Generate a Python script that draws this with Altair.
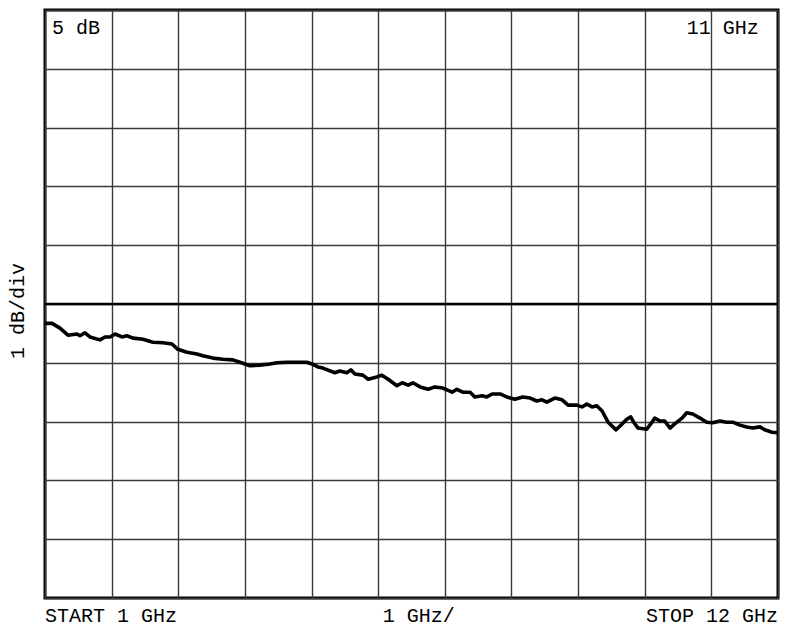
import altair as alt
import pandas as pd

# Trace (frequency in GHz, level in dB relative to reference line)
freq_ghz = [1.00, 1.105, 1.225, 1.345, 1.48, 1.525, 1.60, 1.675, 1.825, 1.90, 1.975,
            2.05, 2.155, 2.23, 2.32, 2.47, 2.62, 2.77, 2.905, 2.995, 3.13, 3.28, 3.37,
            3.52, 3.67, 3.82, 3.925, 4.075, 4.225, 4.375, 4.48, 4.63, 4.825, 4.93,
            5.005, 5.095, 5.17, 5.35, 5.425, 5.53, 5.59, 5.65, 5.77, 5.85, 5.98, 6.055,
            6.15, 6.28, 6.36, 6.45, 6.52, 6.63, 6.75, 6.85, 6.97, 7.11, 7.18, 7.27,
            7.38, 7.45, 7.56, 7.63, 7.71, 7.83, 7.93, 8.05, 8.17, 8.28, 8.38, 8.46,
            8.53, 8.65, 8.76, 8.85, 8.98, 9.06, 9.13, 9.21, 9.28, 9.36, 9.45, 9.57,
            9.66, 9.73, 9.79, 9.84, 9.90, 10.03, 10.11, 10.15, 10.23, 10.30, 10.38,
            10.45, 10.56, 10.63, 10.72, 10.83, 10.93, 11.02, 11.13, 11.23, 11.32,
            11.43, 11.53, 11.62, 11.73, 11.80, 11.91, 12.00]
level_db = [-0.33, -0.33, -0.41, -0.53, -0.51, -0.54, -0.49, -0.56, -0.61, -0.56, -0.56,
            -0.51, -0.56, -0.54, -0.58, -0.60, -0.65, -0.66, -0.68, -0.77, -0.82, -0.85,
            -0.88, -0.92, -0.94, -0.95, -0.99, -1.05, -1.04, -1.02, -1.00, -0.99, -0.99,
            -0.99, -1.02, -1.07, -1.09, -1.17, -1.14, -1.17, -1.12, -1.19, -1.21, -1.28,
            -1.24, -1.21, -1.28, -1.39, -1.34, -1.38, -1.34, -1.41, -1.45, -1.41, -1.43,
            -1.50, -1.45, -1.50, -1.50, -1.58, -1.56, -1.58, -1.53, -1.53, -1.58, -1.62,
            -1.58, -1.60, -1.65, -1.63, -1.67, -1.60, -1.63, -1.72, -1.72, -1.75, -1.70,
            -1.75, -1.73, -1.82, -2.01, -2.14, -2.04, -1.96, -1.92, -2.02, -2.11, -2.13,
            -2.01, -1.94, -1.99, -1.99, -2.11, -2.04, -1.94, -1.85, -1.87, -1.94, -2.01,
            -2.02, -1.99, -2.01, -2.01, -2.06, -2.09, -2.11, -2.09, -2.14, -2.18, -2.19]

x_ticks = list(range(1, 13))      # 1 GHz/div, START 1 GHz .. STOP 12 GHz
y_ticks = list(range(-5, 6))      # 1 dB/div
ref_level = [0]

left_texts = ["5 dB", "11 GHz", "START 1 GHz", "1 GHz/"]
left_x = [1.105, 10.63, 1.0, 6.07]
left_y = [4.59, 4.59, -5.41, -5.41]
right_texts = ["STOP 12 GHz"]
right_x = [12.0]
right_y = [-5.41]
side_texts = ["1 dB/div"]
side_x = [0.6]
side_y = [-0.12]

FONT = "Liberation Mono"
FS = 20

x_scale = alt.Scale(domain=[1, 12], nice=False, zero=False)
y_scale = alt.Scale(domain=[-5, 5], nice=False, zero=False)

grid_axis = dict(grid=True, labels=False, ticks=False, domain=False,
                 gridColor="#3a3a3a", gridWidth=1.4, gridOpacity=1)

trace = pd.DataFrame({"f": freq_ghz, "db": level_db})

line = alt.Chart(trace).mark_line(color="black", strokeWidth=3.6, strokeJoin="round").encode(
    x=alt.X("f:Q", scale=x_scale, title=None, axis=alt.Axis(values=x_ticks, **grid_axis)),
    y=alt.Y("db:Q", scale=y_scale, title=None, axis=alt.Axis(values=y_ticks, **grid_axis)),
)

ref = alt.Chart(pd.DataFrame({"r": ref_level})).mark_rule(color="black", strokeWidth=2.6).encode(
    y=alt.Y("r:Q", scale=y_scale)
)

def texts(labels, xs, ys, **kw):
    df = pd.DataFrame({"t": labels, "f": xs, "db": ys})
    return alt.Chart(df).mark_text(font=FONT, fontSize=FS, color="black", **kw).encode(
        x=alt.X("f:Q", scale=x_scale),
        y=alt.Y("db:Q", scale=y_scale),
        text="t:N",
    )

t_left = texts(left_texts, left_x, left_y, align="left", baseline="alphabetic")
t_right = texts(right_texts, right_x, right_y, align="right", baseline="alphabetic")
t_side = texts(side_texts, side_x, side_y, align="center", baseline="middle", angle=270)

chart = alt.layer(ref, line, t_left, t_right, t_side).properties(
    width=733, height=588,
    autosize=alt.AutoSizeParams(type="none"),
    padding={"left": 37, "top": 2, "right": 19, "bottom": 31},
    background="white",
).configure_view(stroke="black", strokeWidth=3)

chart.save("out.html", embed_options={"renderer": "svg", "actions": False})
